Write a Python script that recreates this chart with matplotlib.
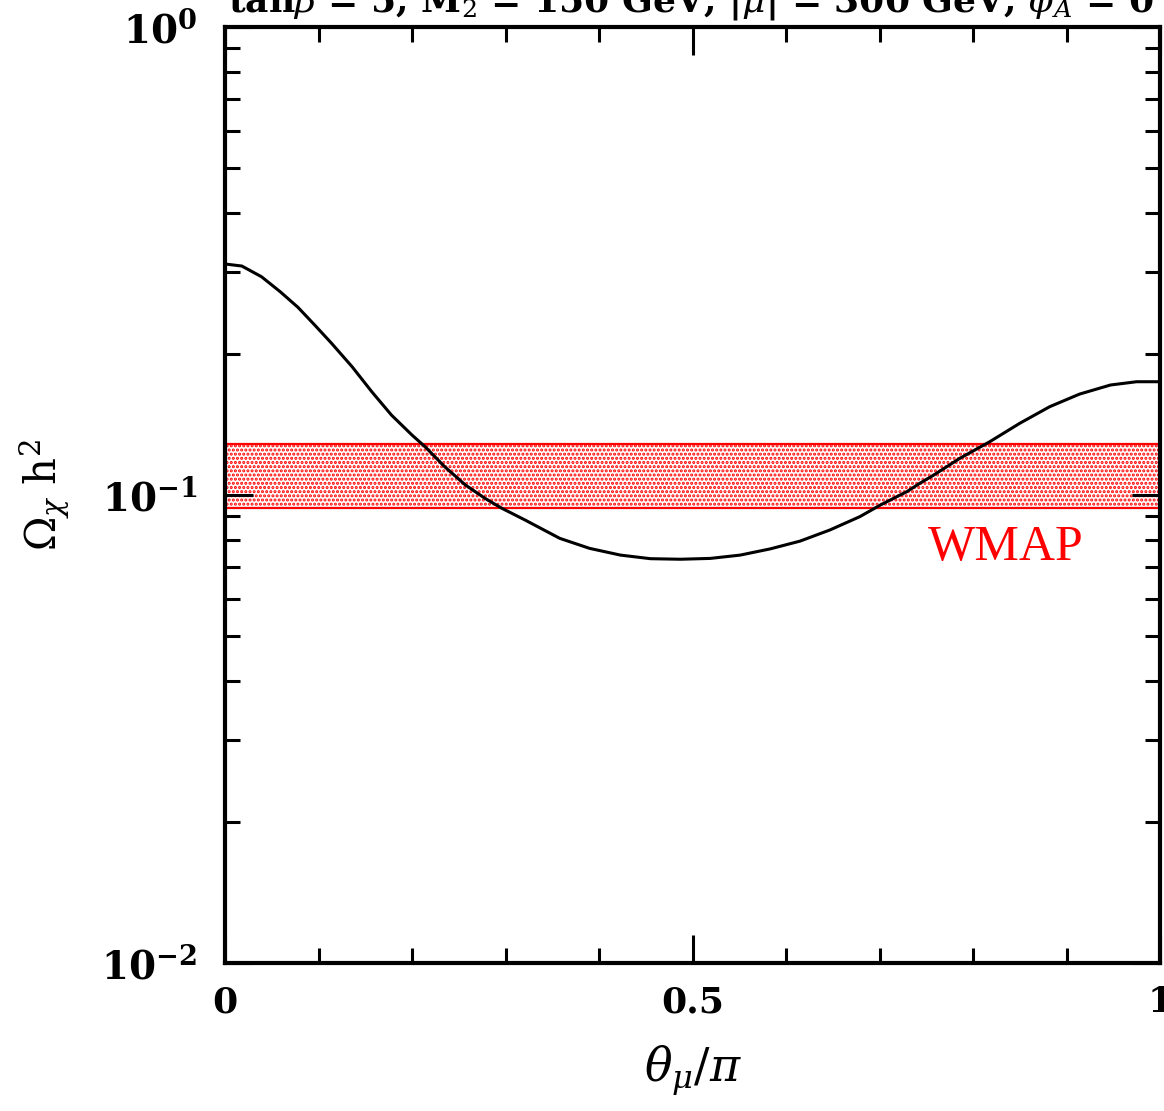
import numpy as np
import matplotlib
matplotlib.use("Agg")
import matplotlib.pyplot as plt
from matplotlib.ticker import FixedLocator, FixedFormatter, NullFormatter, LogLocator

plt.rcParams['mathtext.fontset'] = 'dejavuserif'
plt.rcParams['hatch.linewidth'] = 1.5

# 曲線の読み取り値 (θμ/π, Ωχ h^2)
theta = [0.0, 0.018, 0.039, 0.059, 0.078, 0.096, 0.114, 0.136, 0.157, 0.178,
         0.200, 0.214, 0.235, 0.257, 0.278, 0.296, 0.321, 0.358, 0.390, 0.423,
         0.455, 0.487, 0.519, 0.551, 0.583, 0.615, 0.647, 0.679, 0.701, 0.729,
         0.743, 0.758, 0.786, 0.818, 0.850, 0.882, 0.914, 0.947, 0.975, 1.0]
omega = [0.3116, 0.3085, 0.2927, 0.2719, 0.2518, 0.2307, 0.2109, 0.1879, 0.1662, 0.1482,
         0.1343, 0.1268, 0.1149, 0.1051, 0.0984, 0.0937, 0.0884, 0.0808, 0.0769, 0.0744,
         0.0731, 0.0729, 0.0732, 0.0744, 0.0767, 0.0797, 0.0842, 0.0899, 0.0952, 0.1016,
         0.1059, 0.1103, 0.1198, 0.1300, 0.1423, 0.1544, 0.1643, 0.1718, 0.1746, 0.1746]

# WMAP の範囲
wmap_lo, wmap_hi = 0.0939, 0.1285

xtick_pos = [0, 0.5, 1]
xtick_labels = ["0", "0.5", "1"]
ytick_pos = [1e-2, 1e-1, 1e0]
ytick_labels = [r"$\mathbf{10^{-2}}$", r"$\mathbf{10^{-1}}$", r"$\mathbf{10^{0}}$"]

title = r"tan$\beta$ = 5, M$_2$ = 150 GeV, |$\mu$| = 300 GeV, $\phi_A$ = 0"

fig = plt.figure(figsize=(11.64, 11.11), dpi=100)
ax = fig.add_axes([225/1164, 148/1111, 935/1164, 936/1111])

# WMAP バンド（点々のハッチ）
ax.axhspan(wmap_lo, wmap_hi, facecolor='none', edgecolor='red', hatch='....', lw=0, zorder=1)
ax.axhline(wmap_lo, color='red', lw=1.6, zorder=2)
ax.axhline(wmap_hi, color='red', lw=1.6, zorder=2)

ax.plot(theta, omega, color='black', lw=2.2, zorder=3)

ax.set_yscale('log')
ax.set_xlim(0, 1)
ax.set_ylim(1e-2, 1)

ax.xaxis.set_major_locator(FixedLocator(xtick_pos))
ax.xaxis.set_major_formatter(FixedFormatter(xtick_labels))
ax.xaxis.set_minor_locator(FixedLocator(np.arange(0.1, 1.0, 0.1)))
ax.yaxis.set_major_locator(FixedLocator(ytick_pos))
ax.yaxis.set_major_formatter(FixedFormatter(ytick_labels))
ax.yaxis.set_minor_locator(LogLocator(base=10, subs=np.arange(2, 10)))
ax.yaxis.set_minor_formatter(NullFormatter())

ax.tick_params(which='both', direction='in', top=True, right=True, width=2.2, colors='black')
ax.tick_params(which='major', length=20)
ax.tick_params(which='minor', length=11)
ax.tick_params(axis='x', which='major', pad=16)
ax.tick_params(axis='y', which='major', pad=20)
for lab in ax.get_xticklabels():
    lab.set_family('DejaVu Serif')
    lab.set_fontsize(26)
    lab.set_fontweight('bold')
for lab in ax.get_yticklabels():
    lab.set_fontsize(28)
for s in ax.spines.values():
    s.set_linewidth(3)

ax.set_xlabel(r"$\theta_\mu/\pi$", fontsize=33, labelpad=18)
ax.set_ylabel(r"$\Omega_\chi\ \mathrm{h}^2$", fontsize=30, labelpad=22)

ax.text(0.835, 0.077, "WMAP", color='red', fontsize=36, family='Liberation Serif',
        ha='center', va='center')

# 上端で切れているタイトル
fig.text(228/1164, 1 - 12/1111, title, fontsize=26, fontweight='bold', family='DejaVu Serif',
         ha='left', va='baseline')

fig.savefig("out.png", dpi=100)
